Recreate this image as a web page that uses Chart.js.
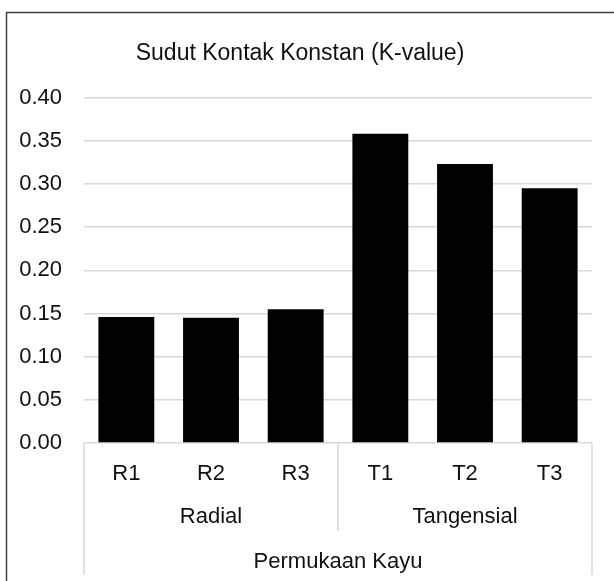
<!DOCTYPE html>
<html>
<head>
<meta charset="utf-8">
<script src="https://cdn.jsdelivr.net/npm/chart.js@4/dist/chart.umd.min.js"></script>
<style>
  html, body { margin: 0; padding: 0; background: #fff; }
  #wrap { width: 614px; height: 581px; position: relative; }
</style>
</head>
<body>
<div id="wrap"><canvas id="c" width="614" height="581"></canvas></div>
<script>
const chartTitle = 'Sudut Kontak Konstan (K-value)';
const categories = ['R1', 'R2', 'R3', 'T1', 'T2', 'T3'];
const groupLabels = ['Radial', 'Tangensial'];
const groupOfCategory = [0, 0, 0, 1, 1, 1];
const axisTitle = 'Permukaan Kayu';
const values = [0.146, 0.145, 0.155, 0.358, 0.323, 0.295];
const yTicks = [0.00, 0.05, 0.10, 0.15, 0.20, 0.25, 0.30, 0.35, 0.40];

const FONT = "'Liberation Sans Narrow', 'Arial Narrow', 'Liberation Sans', Arial, sans-serif";
const TEXT = '#111111';
const GRID = '#d9d9d9';

const frame = {
  id: 'frame',
  beforeDraw(chart) {
    const ctx = chart.ctx;
    ctx.save();
    ctx.strokeStyle = '#404040';
    ctx.lineWidth = 1.5;
    ctx.beginPath();
    ctx.moveTo(6.5, 581);
    ctx.lineTo(6.5, 12.5);
    ctx.lineTo(614, 12.5);
    ctx.stroke();
    ctx.restore();
  }
};

const multiLevel = {
  id: 'multiLevel',
  afterDraw(chart) {
    const ctx = chart.ctx;
    const xs = chart.scales.x;
    const top = xs.top;
    const rowH = 44;
    ctx.save();
    ctx.strokeStyle = GRID;
    ctx.lineWidth = 1.5;
    const bounds = [];
    let start = 0;
    for (let i = 1; i <= categories.length; i++) {
      if (i === categories.length || groupOfCategory[i] !== groupOfCategory[start]) {
        bounds.push([start, i - 1]);
        start = i;
      }
    }
    const half = (xs.getPixelForValue(1) - xs.getPixelForValue(0)) / 2;
    ctx.beginPath();
    ctx.moveTo(xs.left, top); ctx.lineTo(xs.left, top + rowH * 3);
    ctx.moveTo(xs.right, top); ctx.lineTo(xs.right, top + rowH * 3);
    for (let b = 0; b < bounds.length - 1; b++) {
      const x = xs.getPixelForValue(bounds[b][1]) + half;
      ctx.moveTo(x, top); ctx.lineTo(x, top + rowH * 2);
    }
    ctx.stroke();
    ctx.fillStyle = TEXT;
    ctx.font = '22px ' + FONT;
    ctx.textAlign = 'center';
    ctx.textBaseline = 'middle';
    bounds.forEach((b) => {
      const x = (xs.getPixelForValue(b[0]) + xs.getPixelForValue(b[1])) / 2;
      ctx.fillText(groupLabels[groupOfCategory[b[0]]], x, top + 74);
    });
    ctx.fillText(axisTitle, (xs.left + xs.right) / 2, top + 119);
    ctx.restore();
  }
};

new Chart(document.getElementById('c'), {
  type: 'bar',
  data: {
    labels: categories,
    datasets: [{
      data: values,
      backgroundColor: '#000000',
      borderWidth: 0,
      categoryPercentage: 1.0,
      barPercentage: 0.66
    }]
  },
  options: {
    responsive: false,
    animation: false,
    devicePixelRatio: 1,
    layout: { padding: { left: 8, right: 22, top: 12, bottom: 6 } },
    plugins: {
      legend: { display: false },
      tooltip: { enabled: false },
      title: {
        display: true,
        text: chartTitle,
        color: TEXT,
        font: { family: FONT, size: 23, weight: 'normal' },
        padding: { top: 28, bottom: 30 }
      }
    },
    scales: {
      x: {
        grid: { display: false, drawTicks: false },
        border: { display: false },
        ticks: { color: TEXT, font: { family: FONT, size: 22 }, padding: 18, maxRotation: 0 },
        afterFit(s) { s.height = 132; }
      },
      y: {
        min: 0, max: 0.4,
        afterBuildTicks(s) { s.ticks = yTicks.map(v => ({ value: v })); },
        grid: { color: GRID, lineWidth: 1.5, drawTicks: false },
        border: { display: false },
        ticks: {
          color: TEXT,
          font: { family: FONT, size: 22 },
          padding: 22,
          callback: v => Number(v).toFixed(2)
        },
        afterFit(s) { s.width = 76; }
      }
    }
  },
  plugins: [frame, multiLevel]
});
</script>
</body>
</html>
